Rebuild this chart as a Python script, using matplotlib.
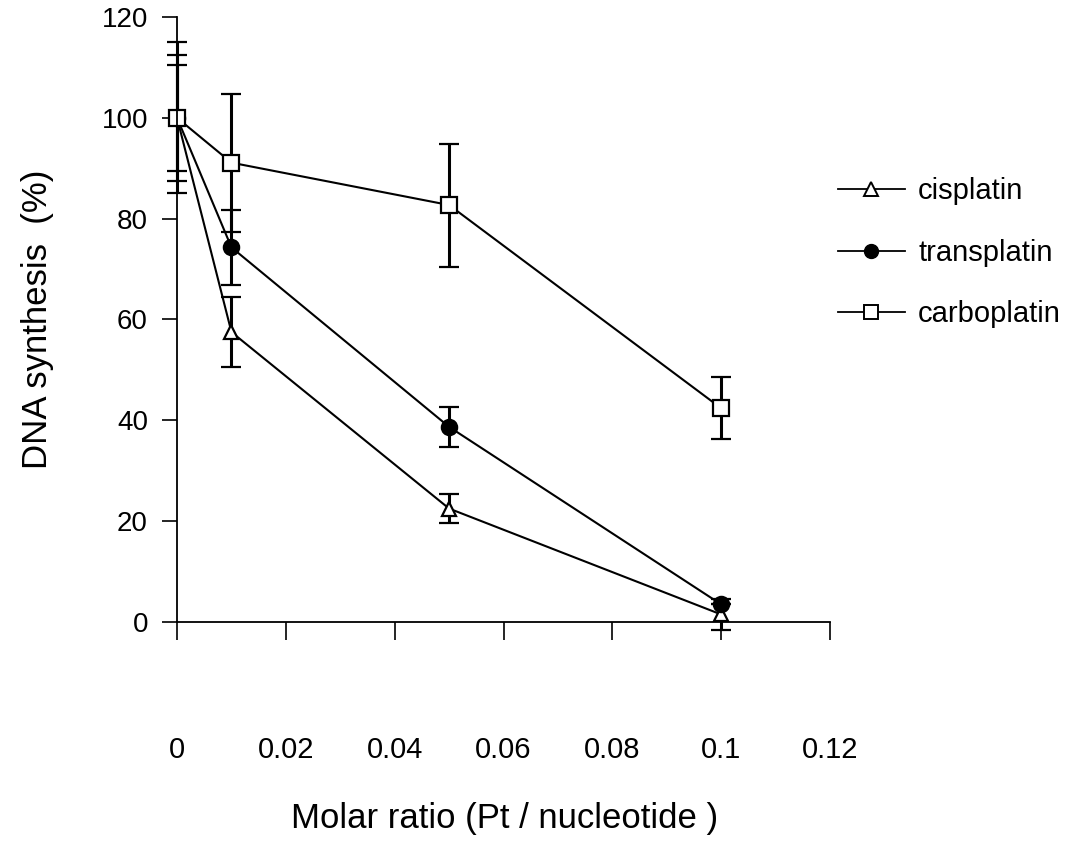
import numpy as np
import matplotlib
matplotlib.use("Agg")
import matplotlib.pyplot as plt
from matplotlib.lines import Line2D

plt.rcParams['font.family'] = ['Liberation Sans', 'DejaVu Sans']

ratio = [0, 0.01, 0.05, 0.1]

cis = [100, 57.5, 22.5, 1.5]
cis_err = [10.5, 7, 2.8, 3]

trans = [100, 74.3, 38.7, 3.5]
trans_err = [12.5, 7.4, 4, 0]

carbo = [100, 91.1, 82.7, 42.4]
carbo_err = [15, 13.7, 12.2, 6.2]

names = ['cisplatin', 'transplatin', 'carboplatin']

xticks = [0, 0.02, 0.04, 0.06, 0.08, 0.1, 0.12]
xticklabels = ['0', '0.02', '0.04', '0.06', '0.08', '0.1', '0.12']
yticks = [0, 20, 40, 60, 80, 100, 120]

fig = plt.figure(figsize=(10.73, 8.48), dpi=100)
ax = fig.add_axes([0.165, 0.2665, 0.6085, 0.7135])

common = dict(color='black', lw=1.5, elinewidth=2.2, capsize=7, capthick=2.2,
              clip_on=False, mec='black', mew=1.6)

ax.errorbar(ratio, cis, yerr=cis_err, fmt='-^', ms=10, mfc='white', **common)
ax.errorbar(ratio, trans, yerr=trans_err, fmt='-o', ms=11, mfc='black', **common)
ax.errorbar(ratio, carbo, yerr=carbo_err, fmt='-s', ms=11, mfc='white', **common)

ax.set_xlim(0, 0.12)
ax.set_ylim(0, 120)
ax.set_xticks(xticks)
ax.set_xticklabels(xticklabels)
ax.set_yticks(yticks)

ax.spines['top'].set_visible(False)
ax.spines['right'].set_visible(False)
ax.spines['left'].set_linewidth(1.3)
ax.spines['bottom'].set_linewidth(1.3)

ax.tick_params(axis='x', direction='out', length=13, width=1.2, pad=69, labelsize=21)
ax.tick_params(axis='y', direction='out', length=11, width=1.2, pad=10, labelsize=20)

ax.set_xlabel('Molar ratio (Pt / nucleotide )', fontsize=25)
ax.xaxis.set_label_coords(0.502, -0.324)
ax.xaxis.label.set_va('center')
ax.set_ylabel('DNA synthesis  (%)', fontsize=25)
ax.yaxis.set_label_coords(-0.213, 0.5)
ax.yaxis.label.set_va('center')

handles = [
    Line2D([], [], color='black', lw=1.3, marker='^', ms=10, mfc='white', mec='black', mew=1.4),
    Line2D([], [], color='black', lw=1.3, marker='o', ms=10, mfc='black', mec='black'),
    Line2D([], [], color='black', lw=1.3, marker='s', ms=9.5, mfc='white', mec='black', mew=1.4),
]
ax.legend(handles, names, loc='upper left', bbox_to_anchor=(1.012, 0.735),
          frameon=False, fontsize=21, handlelength=2.3, handletextpad=0.45,
          labelspacing=1.15, borderaxespad=0, borderpad=0)

fig.savefig('out.png', dpi=100)
